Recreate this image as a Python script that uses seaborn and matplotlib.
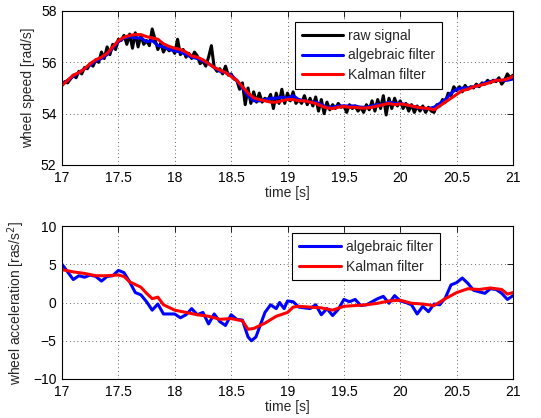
import numpy as np
import pandas as pd
import matplotlib
matplotlib.use("Agg")
import matplotlib.pyplot as plt
import seaborn as sns

# ---------------- data ----------------
# top panel: wheel speed [rad/s]
raw_t_start, raw_t_end = 17.0, 21.0
raw_signal = [
    55.1, 55.25, 55.2, 55.35, 55.5, 55.4, 55.65, 55.55,
    55.8, 55.75, 55.95, 55.85, 56.1, 56.0, 56.4, 56.15,
    56.6, 56.3, 56.7, 56.5, 56.9, 56.85, 57.05, 56.7,
    57.1, 56.55, 57.15, 56.6, 57.05, 56.7, 56.85, 56.65,
    57.3, 56.9, 56.5, 56.75, 56.4, 56.6, 56.45, 56.55,
    56.35, 56.9, 56.3, 56.5, 56.2, 56.35, 56.15, 56.4,
    56.25, 55.95, 56.05, 55.85, 56.2, 56.65, 55.8, 55.65,
    55.75, 55.55, 55.85, 55.5, 55.55, 55.35, 55.3, 54.95,
    55.2, 54.35, 55.0, 54.4, 54.85, 54.45, 54.8, 54.45,
    54.6, 54.5, 54.75, 54.2, 54.8, 54.4, 54.95, 54.4,
    54.8, 54.5, 54.85, 54.4, 54.55, 54.4, 54.7, 54.35,
    54.6, 54.3, 54.65, 54.1, 54.55, 54.0, 54.45, 54.15,
    54.35, 54.2, 54.4, 54.25, 54.3, 54.05, 54.35, 54.2,
    54.3, 54.1, 54.25, 54.05, 54.35, 54.15, 54.5, 54.1,
    54.55, 54.2, 54.7, 53.95, 54.6, 54.2, 54.6, 54.3,
    54.5, 54.2, 54.4, 54.1, 54.35, 54.05, 54.3, 54.1,
    54.3, 54.05, 54.25, 54.1, 54.05, 54.35, 54.3, 54.55,
    54.45, 54.8, 54.7, 55.05, 54.9, 55.05, 54.85, 55.1,
    54.95, 55.05, 55.0, 55.15, 55.05, 55.2, 55.15, 55.3,
    55.2, 55.3, 55.25, 55.4, 55.15, 55.3, 55.55, 55.4,
    55.5,
]
speed_algebraic = [
    55.15, 55.3, 55.45, 55.6, 55.75, 55.9, 56.05, 56.15, 56.3, 56.55,
    56.8, 56.95, 57.0, 56.95, 56.95, 56.8, 56.85, 56.65, 56.6, 56.5,
    56.45, 56.4, 56.3, 56.2, 56.15, 56.05, 55.95, 55.8, 55.65, 55.6,
    55.5, 55.3, 55.0, 54.7, 54.5, 54.5, 54.55, 54.6, 54.6, 54.65,
    54.6, 54.7, 54.55, 54.5, 54.45, 54.45, 54.35, 54.25, 54.25, 54.3,
    54.3, 54.3, 54.3, 54.25, 54.25, 54.3, 54.35, 54.35, 54.45, 54.4,
    54.4, 54.35, 54.3, 54.25, 54.2, 54.2, 54.25, 54.4, 54.55, 54.8,
    54.95, 55.0, 55.0, 55.05, 55.1, 55.2, 55.25, 55.3, 55.3, 55.3,
    55.35,
]
speed_kalman = [
    55.1, 55.3, 55.5, 55.6, 55.75, 55.95, 56.1, 56.2, 56.35, 56.6,
    56.85, 56.98, 57.05, 57.08, 57.08, 57.0, 56.95, 56.9, 56.72, 56.62,
    56.55, 56.5, 56.4, 56.25, 56.2, 56.1, 55.95, 55.8, 55.7, 55.6,
    55.45, 55.3, 55.05, 54.8, 54.62, 54.55, 54.5, 54.45, 54.45, 54.5,
    54.55, 54.55, 54.5, 54.5, 54.45, 54.4, 54.3, 54.22, 54.2, 54.25,
    54.28, 54.25, 54.25, 54.22, 54.22, 54.25, 54.3, 54.35, 54.4, 54.35,
    54.38, 54.35, 54.3, 54.25, 54.22, 54.2, 54.15, 54.3, 54.45, 54.6,
    54.75, 54.9, 54.95, 55.05, 55.1, 55.15, 55.22, 55.3, 55.3, 55.35,
    55.45,
]

# bottom panel: wheel acceleration
acc_alg_t = [17.0, 17.05, 17.1, 17.15, 17.2, 17.25, 17.3, 17.35, 17.4, 17.45,
             17.5, 17.55, 17.6, 17.65, 17.7, 17.75, 17.8, 17.85, 17.9, 18.0,
             18.05, 18.1, 18.15, 18.2, 18.25, 18.3, 18.35, 18.4, 18.45, 18.5,
             18.55, 18.6, 18.65, 18.68, 18.72, 18.8, 18.85, 18.9, 18.93, 18.97,
             19.0, 19.05, 19.1, 19.2, 19.25, 19.3, 19.35, 19.4, 19.45, 19.5,
             19.55, 19.6, 19.65, 19.7, 19.8, 19.85, 19.9, 19.95, 20.0, 20.05,
             20.1, 20.15, 20.2, 20.25, 20.3, 20.35, 20.4, 20.45, 20.5, 20.55,
             20.6, 20.65, 20.7, 20.75, 20.8, 20.85, 20.9, 20.95, 21.0]
acc_alg = [5.0, 4.0, 3.0, 3.5, 3.3, 3.6, 3.4, 2.8, 3.4, 3.5,
           4.2, 3.9, 2.7, 1.3, 1.0, 0.1, -1.0, -0.2, -1.5, -1.5,
           -2.0, -1.6, -0.8, -1.6, -1.3, -2.8, -1.5, -2.5, -3.0, -1.6,
           -2.2, -2.3, -4.5, -5.0, -4.5, -1.3, -0.3, -0.8, 0.0, -0.8,
           0.2, 0.1, -0.6, -0.8, -0.3, -1.6, -0.8, -1.7, -0.9, 0.4,
           0.1, 0.4, -0.4, -0.3, 0.5, 0.8, -0.1, 0.9, 0.2, 0.0,
           -0.3, -1.5, -0.5, -1.2, -0.2, -0.3, 0.6, 2.3, 2.6, 3.2,
           2.5, 1.6, 1.4, 1.2, 1.8, 1.7, 1.2, 0.4, 0.9]
acc_kal_t = [17.0, 17.1, 17.2, 17.3, 17.4, 17.5, 17.55, 17.6, 17.7, 17.75,
             17.8, 17.85, 17.9, 18.0, 18.1, 18.2, 18.3, 18.4, 18.5, 18.6,
             18.65, 18.7, 18.8, 18.9, 19.0, 19.05, 19.1, 19.2, 19.3, 19.4,
             19.5, 19.6, 19.7, 19.8, 19.9, 20.0, 20.1, 20.2, 20.3, 20.4,
             20.5, 20.6, 20.7, 20.8, 20.9, 20.95, 21.0]
acc_kal = [4.3, 4.0, 3.8, 3.5, 3.5, 3.6, 3.4, 2.7, 2.0, 1.2,
           0.5, 0.7, -0.3, -1.0, -1.3, -1.6, -1.8, -2.2, -2.1, -2.4,
           -3.5, -3.4, -2.7, -1.8, -1.3, -0.6, -0.5, -0.6, -0.7, -1.0,
           -0.5, -0.4, -0.3, -0.1, 0.2, 0.3, -0.1, -0.2, -0.4, 0.5,
           1.3, 1.8, 1.7, 1.9, 1.7, 1.1, 1.3]

speed_yticks = [52, 54, 56, 58]
acc_yticks = [-10, -5, 0, 5, 10]
x_ticks = [17, 17.5, 18, 18.5, 19, 19.5, 20, 20.5, 21]
x_ticklabels = ["17", "17.5", "18", "18.5", "19", "19.5", "20", "20.5", "21"]

# ---------------- frames ----------------
raw_t = np.linspace(raw_t_start, raw_t_end, len(raw_signal))
filt_t = np.linspace(raw_t_start, raw_t_end, len(speed_algebraic))
df_top = pd.concat([
    pd.DataFrame({"t": raw_t, "v": raw_signal, "s": "raw signal"}),
    pd.DataFrame({"t": filt_t, "v": speed_algebraic, "s": "algebraic filter"}),
    pd.DataFrame({"t": filt_t, "v": speed_kalman, "s": "Kalman filter"}),
], ignore_index=True)
df_bot = pd.concat([
    pd.DataFrame({"t": acc_alg_t, "v": acc_alg, "s": "algebraic filter"}),
    pd.DataFrame({"t": acc_kal_t, "v": acc_kal, "s": "Kalman filter"}),
], ignore_index=True)

# ---------------- style ----------------
sns.set_style("white")
plt.rcParams["font.family"] = ["Liberation Sans", "DejaVu Sans"]
plt.rcParams["font.size"] = 10
plt.rcParams["axes.unicode_minus"] = True

palette = {"raw signal": "#000000", "algebraic filter": "#0000ff", "Kalman filter": "#ff0000"}

fig = plt.figure(figsize=(5.41, 4.18), dpi=100)
ax1 = fig.add_axes([62 / 541, 1 - 165 / 418, 451 / 541, 154 / 418])
ax2 = fig.add_axes([62 / 541, 1 - 379 / 418, 451 / 541, 153 / 418])

sns.lineplot(data=df_top, x="t", y="v", hue="s", palette=palette,
             hue_order=["raw signal", "algebraic filter", "Kalman filter"],
             linewidth=2.2, ax=ax1, estimator=None, sort=False)
sns.lineplot(data=df_bot, x="t", y="v", hue="s", palette=palette,
             hue_order=["algebraic filter", "Kalman filter"],
             linewidth=2.2, ax=ax2, estimator=None, sort=False)

for ax, yt, ylab in [(ax1, speed_yticks, "wheel speed [rad/s]"),
                     (ax2, acc_yticks, "wheel acceleration [ras/s$^2$]")]:
    ax.set_xlim(17, 21)
    ax.set_ylim(yt[0], yt[-1])
    ax.set_xticks(x_ticks)
    ax.set_xticklabels(x_ticklabels)
    ax.set_yticks(yt)
    ax.set_xlabel("time [s]", fontsize=10, labelpad=1)
    ax.set_ylabel(ylab, fontsize=10, labelpad=4)
    ax.tick_params(direction="in", length=4, width=0.6, labelsize=10,
                   top=True, right=True, pad=4, colors="black")
    ax.grid(True, linestyle=(0, (1, 3.5)), color="black", linewidth=0.6, alpha=0.8)
    for sp in ax.spines.values():
        sp.set_visible(True)
        sp.set_color("black")
        sp.set_linewidth(0.8)
    leg = ax.get_legend()
    if leg is not None:
        leg.remove()

h1, l1 = ax1.get_legend_handles_labels()
leg1 = ax1.legend(h1, l1, loc="upper right", bbox_to_anchor=(0.843, 0.929),
                  frameon=True, fancybox=False, framealpha=1, edgecolor="black",
                  handlelength=3.0, handletextpad=0.35, labelspacing=0.4,
                  borderpad=0.5, fontsize=10, borderaxespad=0)
leg1.get_frame().set_linewidth(0.8)
h2, l2 = ax2.get_legend_handles_labels()
leg2 = ax2.legend(h2, l2, loc="upper right", bbox_to_anchor=(0.838, 0.954),
                  frameon=True, fancybox=False, framealpha=1, edgecolor="black",
                  handlelength=3.0, handletextpad=0.35, labelspacing=0.4,
                  borderpad=0.5, fontsize=10, borderaxespad=0)
leg2.get_frame().set_linewidth(0.8)

fig.savefig("out.png", dpi=100, facecolor="white")
